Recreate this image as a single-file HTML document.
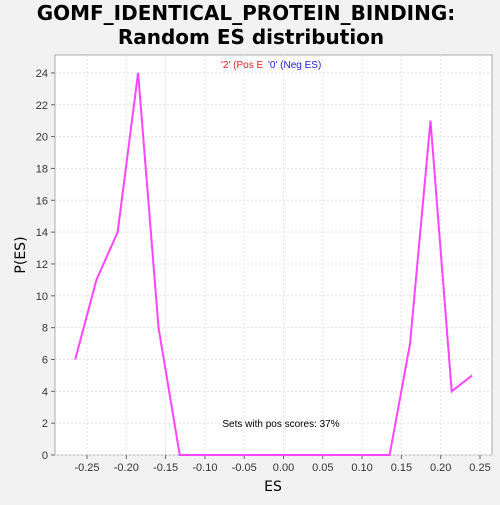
<!DOCTYPE html>
<html><head><meta charset="utf-8"><style>
body{margin:0;background:#f2f2f2;font-family:"Liberation Sans",sans-serif}
</style></head><body>
<svg width="500" height="500" xmlns="http://www.w3.org/2000/svg" font-family="Liberation Sans, sans-serif">
<rect width="500" height="500" fill="#f2f2f2"/>
<text x="246" y="20" text-anchor="middle" font-size="20" font-weight="bold" font-family="DejaVu Sans, sans-serif">GOMF_IDENTICAL_PROTEIN_BINDING:</text>
<text x="251" y="44" text-anchor="middle" font-size="20" font-weight="bold" font-family="DejaVu Sans, sans-serif">Random ES distribution</text>
<rect x="55" y="55" width="437" height="400" fill="#fff" stroke="#999" stroke-width="0.8"/>
<g id="grid"></g><g id="axes"></g>
<polyline id="line" fill="none" stroke="#ff44ff" stroke-width="2"/>
<text x="221" y="68" font-size="10" fill="#e02020">'2' (Pos E</text>
<text x="268" y="68" font-size="10" fill="#2020e0">'0' (Neg ES)</text>
<text x="281" y="427" text-anchor="middle" font-size="10">Sets with pos scores: 37%</text>
<text x="273" y="491" text-anchor="middle" font-size="14" font-family="DejaVu Sans, sans-serif">ES</text>
<text x="25" y="255" text-anchor="middle" font-size="14" font-family="DejaVu Sans, sans-serif" transform="rotate(-90 25 255)">P(ES)</text>
</svg>
<script>
const xVals=[-0.265,-0.238,-0.211,-0.185,-0.159,-0.132,-0.106,-0.079,-0.053,-0.026,0.000,0.027,0.055,0.082,0.108,0.135,0.161,0.187,0.214,0.240];
const yVals=[6,11,14,24,8,0,0,0,0,0,0,0,0,0,0,0,7,21,4,5];
const xTicks=[-0.25,-0.20,-0.15,-0.10,-0.05,0.00,0.05,0.10,0.15,0.20,0.25];
const yTicks=[0,2,4,6,8,10,12,14,16,18,20,22,24];
const sx=v=>283.5+v*786, sy=v=>455-v*15.92;
const ns="http://www.w3.org/2000/svg";
const g=document.getElementById('grid'),a=document.getElementById('axes');
function mk(t,at,p){const e=document.createElementNS(ns,t);for(const k in at)e.setAttribute(k,at[k]);p.appendChild(e);return e;}
xTicks.forEach(t=>{const x=sx(t);
const l=mk('line',{x1:x,x2:x,y1:55,y2:455,stroke:'#e4e4e4','stroke-dasharray':'2,2'},g);


const k=mk('line',{x1:x,x2:x,y1:455,y2:459,stroke:'#666'},a);


const tx=mk('text',{x:x,y:471,'text-anchor':'middle','font-size':11,fill:'#333'},a);tx.textContent=t.toFixed(2);

});
yTicks.forEach(t=>{const y=sy(t);
const l=mk('line',{x1:55,x2:492,y1:y,y2:y,stroke:'#e4e4e4','stroke-dasharray':'2,2'},g);


const k=mk('line',{x1:51,x2:55,y1:y,y2:y,stroke:'#666'},a);


const tx=mk('text',{x:48,y:y+4,'text-anchor':'end','font-size':11,fill:'#333'},a);tx.textContent=t;

});
document.getElementById('line').setAttribute('points',xVals.map((v,i)=>sx(v)+','+sy(yVals[i])).join(' '));
</script>
</body></html>
